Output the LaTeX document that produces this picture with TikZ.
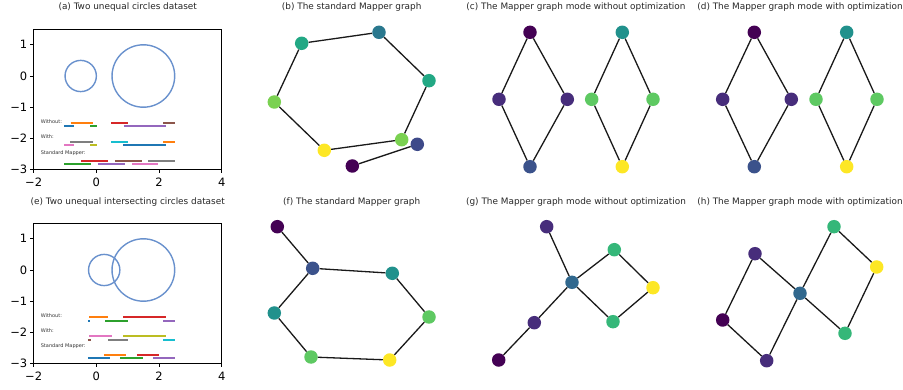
\documentclass[tikz,border=0pt]{standalone}
\usepackage{fontspec}
\setmainfont{DejaVu Sans}
\definecolor{tabblue}{HTML}{1F77B4}
\definecolor{taborange}{HTML}{FF7F0E}
\definecolor{tabgreen}{HTML}{2CA02C}
\definecolor{tabred}{HTML}{D62728}
\definecolor{tabpurple}{HTML}{9467BD}
\definecolor{tabbrown}{HTML}{8C564B}
\definecolor{tabpink}{HTML}{E377C2}
\definecolor{tabgray}{HTML}{7F7F7F}
\definecolor{tabolive}{HTML}{BCBD22}
\definecolor{tabcyan}{HTML}{17BECF}
\definecolor{ringblue}{RGB}{105,145,205}
\definecolor{vA}{HTML}{440154}
\definecolor{vB}{HTML}{472D7B}
\definecolor{vBb}{HTML}{3E4A89}
\definecolor{vC}{HTML}{3B528B}
\definecolor{vD}{HTML}{31688E}
\definecolor{vE}{HTML}{2A788E}
\definecolor{vF}{HTML}{21918C}
\definecolor{vG}{HTML}{22A884}
\definecolor{vH}{HTML}{35B779}
\definecolor{vI}{HTML}{5EC962}
\definecolor{vJ}{HTML}{7AD151}
\definecolor{vK}{HTML}{FDE725}
\begin{document}
\begin{tikzpicture}[x=1pt,y=-1pt,
  nd/.style={circle,inner sep=0pt,minimum size=13.5pt,fill=#1},
  ed/.style={draw=black!90,line width=1.3pt},
  ttl/.style={font=\fontsize{8.9}{10}\selectfont,text=black!85},
  ticklab/.style={font=\fontsize{11.5}{13}\selectfont},
  leg/.style={font=\fontsize{5}{6}\selectfont,anchor=west,inner sep=0pt,text=black!80},
  seg/.style={line width=2pt},
  ring/.style={draw=ringblue,line width=1.4pt},
  frame/.style={draw=black,line width=0.9pt}]
\useasboundingbox (0,0) rectangle (903,390);

% ---------- titles ----------
\node[ttl] (ta) at (127.7,7.5) {(a) Two unequal circles dataset};
\node[ttl] (tb) at (351.7,7.5) {(b) The standard Mapper graph};
\node[ttl] (tc) at (576,7.5) {(c) The Mapper graph mode without optimization};
\node[ttl] (td) at (800,7.5) {(d) The Mapper graph mode with optimization};
\node[ttl] (te) at (127.7,202.5) {(e) Two unequal intersecting circles dataset};
\node[ttl] (tf) at (351.7,202.5) {(f) The standard Mapper graph};
\node[ttl] (tg) at (576,202.5) {(g) The Mapper graph mode without optimization};
\node[ttl] (th) at (800,202.5) {(h) The Mapper graph mode with optimization};

% ---------- panel (a) ----------
\begin{scope}[shift={(96.37,76)},x=31.33pt,y=31.2pt]
  \draw[ring] (-0.5,0) circle[radius=0.5];
  \draw[ring] (1.5,0) circle[radius=1];
  \node[leg] (aw) at (-1.78,-1.45) {Without:};
  \draw[seg,taborange] (-0.82,-1.5) -- (-0.12,-1.5);
  \draw[seg,tabred] (0.47,-1.5) -- (1.0,-1.5);
  \draw[seg,tabbrown] (2.13,-1.5) -- (2.51,-1.5);
  \draw[seg,tabblue] (-1.02,-1.61) -- (-0.72,-1.61);
  \draw[seg,tabgreen] (-0.19,-1.61) -- (0.02,-1.61);
  \draw[seg,tabpurple] (0.88,-1.61) -- (2.21,-1.61);
  \node[leg] (awi) at (-1.78,-1.95) {With:};
  \draw[seg,tabgray] (-0.84,-2.1) -- (-0.11,-2.1);
  \draw[seg,tabcyan] (0.47,-2.1) -- (1.0,-2.1);
  \draw[seg,taborange] (2.13,-2.1) -- (2.51,-2.1);
  \draw[seg,tabpink] (-1.02,-2.2) -- (-0.72,-2.2);
  \draw[seg,tabolive] (-0.19,-2.2) -- (0.02,-2.2);
  \draw[seg,tabblue] (0.86,-2.2) -- (2.23,-2.2);
  \node[leg] (as) at (-1.78,-2.46) {Standard Mapper:};
  \draw[seg,tabred] (-0.48,-2.71) -- (0.36,-2.71);
  \draw[seg,tabbrown] (0.59,-2.71) -- (1.45,-2.71);
  \draw[seg,tabgray] (1.66,-2.71) -- (2.51,-2.71);
  \draw[seg,tabgreen] (-1.02,-2.82) -- (-0.17,-2.82);
  \draw[seg,tabpurple] (0.05,-2.82) -- (0.9,-2.82);
  \draw[seg,tabpink] (1.14,-2.82) -- (1.98,-2.82);
  \draw[frame] (-2,-3) rectangle (4,1.5);
  \foreach \t in {-2,0,2,4} {
    \draw[line width=0.9pt] (\t,-3) -- (\t,-3.112);
    \node[ticklab] at (\t,-3.42) {\ifnum\t<0 −\the\numexpr-\t\relax\else\t\fi};
  }
  \foreach \t in {-3,-2,-1,0,1} {
    \draw[line width=0.9pt] (-2,\t) -- (-2.112,\t);
    \node[ticklab,anchor=east,inner sep=0pt] at (-2.2,\t) {\ifnum\t<0 −\the\numexpr-\t\relax\else\t\fi};
  }
\end{scope}

% ---------- panel (e) ----------
\begin{scope}[shift={(96.37,270)},x=31.33pt,y=31.2pt]
  \draw[ring] (0.25,0) circle[radius=0.5];
  \draw[ring] (1.5,0) circle[radius=1];
  \node[leg] (ew) at (-1.78,-1.45) {Without:};
  \draw[seg,taborange] (-0.23,-1.52) -- (0.36,-1.52);
  \draw[seg,tabred] (0.86,-1.52) -- (2.23,-1.52);
  \draw[seg,tabblue] (-0.27,-1.62) -- (-0.2,-1.62);
  \draw[seg,tabgreen] (0.29,-1.62) -- (1.0,-1.62);
  \draw[seg,tabpurple] (2.13,-1.62) -- (2.51,-1.62);
  \node[leg] (ewi) at (-1.78,-1.95) {With:};
  \draw[seg,tabpink] (-0.22,-2.12) -- (0.51,-2.12);
  \draw[seg,tabolive] (0.86,-2.12) -- (2.23,-2.12);
  \draw[seg,tabbrown] (-0.27,-2.23) -- (-0.16,-2.23);
  \draw[seg,tabgray] (0.38,-2.23) -- (1.0,-2.23);
  \draw[seg,tabcyan] (2.13,-2.23) -- (2.51,-2.23);
  \node[leg] (es) at (-1.78,-2.45) {Standard Mapper:};
  \draw[seg,taborange] (0.24,-2.72) -- (0.96,-2.72);
  \draw[seg,tabred] (1.29,-2.72) -- (2.0,-2.72);
  \draw[seg,tabblue] (-0.27,-2.83) -- (0.44,-2.83);
  \draw[seg,tabgreen] (0.77,-2.83) -- (1.49,-2.83);
  \draw[seg,tabpurple] (1.81,-2.83) -- (2.51,-2.83);
  \draw[frame] (-2,-3) rectangle (4,1.5);
  \foreach \t in {-2,0,2,4} {
    \draw[line width=0.9pt] (\t,-3) -- (\t,-3.112);
    \node[ticklab] at (\t,-3.42) {\ifnum\t<0 −\the\numexpr-\t\relax\else\t\fi};
  }
  \foreach \t in {-3,-2,-1,0,1} {
    \draw[line width=0.9pt] (-2,\t) -- (-2.112,\t);
    \node[ticklab,anchor=east,inner sep=0pt] at (-2.2,\t) {\ifnum\t<0 −\the\numexpr-\t\relax\else\t\fi};
  }
\end{scope}

% ---------- panel (b) ----------
\node[nd=vG] (b1) at (301.7,43.3) {};
\node[nd=vE] (b2) at (379,32.3) {};
\node[nd=vG] (b3) at (429,80.7) {};
\node[nd=vJ] (b4) at (274.3,102) {};
\node[nd=vJ] (b5) at (401.7,139.7) {};
\node[nd=vBb] (b6) at (417.3,144.3) {};
\node[nd=vK] (b7) at (324.3,150.3) {};
\node[nd=vA] (b8) at (352.3,166) {};
\draw[ed] (b1) -- (b2);
\draw[ed] (b2) -- (b3);
\draw[ed] (b3) -- (b5);
\draw[ed] (b1) -- (b4);
\draw[ed] (b4) -- (b7);
\draw[ed] (b7) -- (b5);
\draw[ed] (b6) -- (b8);

% ---------- panel (c) ----------
\node[nd=vA] (c1) at (530,32.3) {};
\node[nd=vB] (c2) at (499,99.3) {};
\node[nd=vB] (c3) at (567.3,99.3) {};
\node[nd=vC] (c4) at (530,166.7) {};
\node[nd=vF] (c5) at (622.3,32.3) {};
\node[nd=vI] (c6) at (591.7,99.3) {};
\node[nd=vI] (c7) at (653,99.3) {};
\node[nd=vK] (c8) at (622.3,166.7) {};
\draw[ed] (c1) -- (c2); \draw[ed] (c1) -- (c3);
\draw[ed] (c2) -- (c4); \draw[ed] (c3) -- (c4);
\draw[ed] (c5) -- (c6); \draw[ed] (c5) -- (c7);
\draw[ed] (c6) -- (c8); \draw[ed] (c7) -- (c8);

% ---------- panel (d) ----------
\node[nd=vA] (d1) at (754.3,32.3) {};
\node[nd=vB] (d2) at (722.7,99.3) {};
\node[nd=vB] (d3) at (791.3,99.3) {};
\node[nd=vC] (d4) at (754.3,166.7) {};
\node[nd=vF] (d5) at (846.7,32.3) {};
\node[nd=vI] (d6) at (816,99.3) {};
\node[nd=vI] (d7) at (877,99.3) {};
\node[nd=vK] (d8) at (846.7,166.7) {};
\draw[ed] (d1) -- (d2); \draw[ed] (d1) -- (d3);
\draw[ed] (d2) -- (d4); \draw[ed] (d3) -- (d4);
\draw[ed] (d5) -- (d6); \draw[ed] (d5) -- (d7);
\draw[ed] (d6) -- (d8); \draw[ed] (d7) -- (d8);

% ---------- panel (f) ----------
\node[nd=vA] (f1) at (277.3,226.7) {};
\node[nd=vC] (f2) at (312.7,268.3) {};
\node[nd=vF] (f3) at (392.3,273.3) {};
\node[nd=vF] (f4) at (274.3,313) {};
\node[nd=vI] (f5) at (429,317) {};
\node[nd=vI] (f6) at (311,357) {};
\node[nd=vK] (f7) at (389.7,360) {};
\draw[ed] (f1) -- (f2);
\draw[ed] (f2) -- (f3);
\draw[ed] (f2) -- (f4);
\draw[ed] (f3) -- (f5);
\draw[ed] (f4) -- (f6);
\draw[ed] (f6) -- (f7);
\draw[ed] (f7) -- (f5);

% ---------- panel (g) ----------
\node[nd=vB] (g1) at (546.7,226.7) {};
\node[nd=vH] (g2) at (614.3,249.7) {};
\node[nd=vD] (g3) at (572,282.3) {};
\node[nd=vK] (g4) at (653,287.7) {};
\node[nd=vB] (g5) at (534.3,322.7) {};
\node[nd=vH] (g6) at (613,321.7) {};
\node[nd=vA] (g7) at (498.7,360) {};
\draw[ed] (g1) -- (g3);
\draw[ed] (g3) -- (g2);
\draw[ed] (g2) -- (g4);
\draw[ed] (g3) -- (g6);
\draw[ed] (g6) -- (g4);
\draw[ed] (g3) -- (g5);
\draw[ed] (g5) -- (g7);

% ---------- panel (h) ----------
\node[nd=vH] (h1) at (834,226.7) {};
\node[nd=vB] (h2) at (755,253.7) {};
\node[nd=vK] (h3) at (876.7,267) {};
\node[nd=vD] (h4) at (800,293.3) {};
\node[nd=vA] (h5) at (722.7,320) {};
\node[nd=vH] (h6) at (845,333.3) {};
\node[nd=vB] (h7) at (766.7,360.7) {};
\draw[ed] (h1) -- (h4);
\draw[ed] (h1) -- (h3);
\draw[ed] (h3) -- (h6);
\draw[ed] (h6) -- (h4);
\draw[ed] (h4) -- (h2);
\draw[ed] (h2) -- (h5);
\draw[ed] (h5) -- (h7);
\draw[ed] (h7) -- (h4);
\end{tikzpicture}
\end{document}
